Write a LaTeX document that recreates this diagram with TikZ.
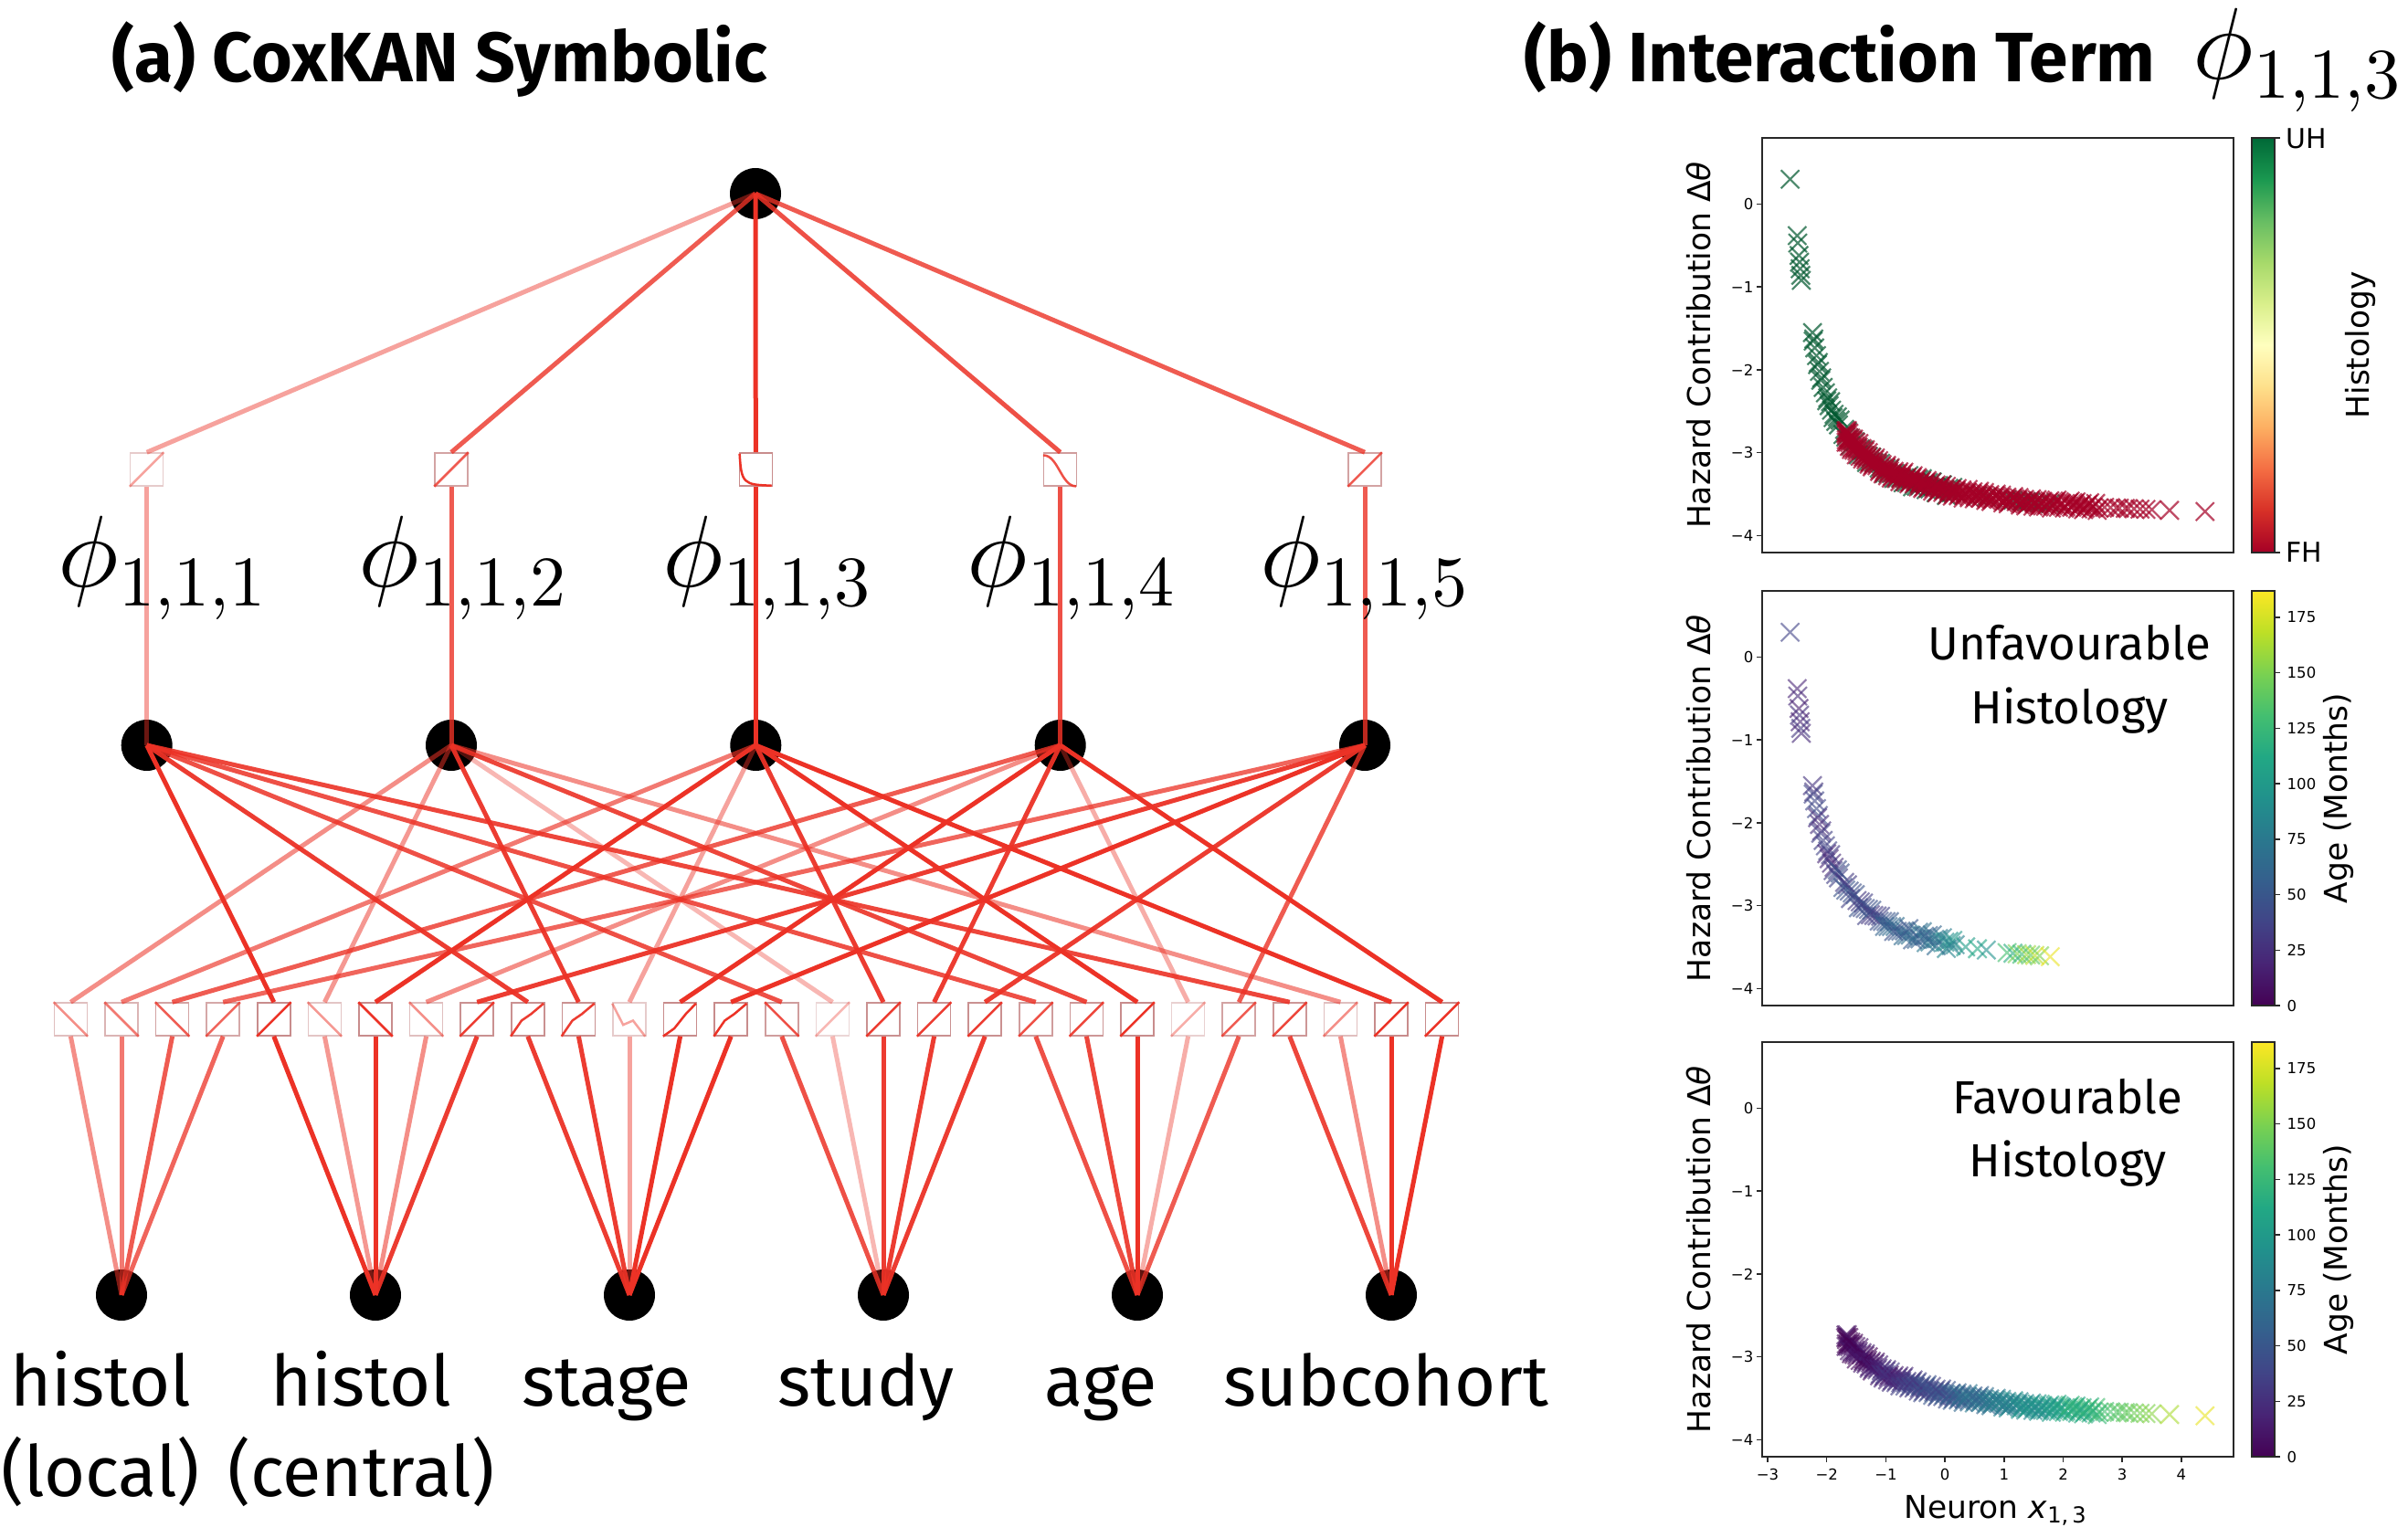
\documentclass[tikz,border=0pt]{standalone}
\usepackage[no-math]{fontspec}
\setmainfont{Fira Sans}
\newfontfamily\plotfont{DejaVu Sans}
\DeclareFontShape{OML}{cmm}{m}{it}{<->cmmi10}{}
\DeclareFontShape{OT1}{cmr}{m}{n}{<->cmr10}{}
\usetikzlibrary{positioning}

% colours
\definecolor{kanred}{RGB}{236,50,38}
\definecolor{boxedge}{RGB}{200,140,140}
\definecolor{axgray}{RGB}{40,40,40}
\definecolor{vir0}{RGB}{68,1,84}
\definecolor{vir1}{RGB}{72,36,117}
\definecolor{vir2}{RGB}{65,68,135}
\definecolor{vir3}{RGB}{53,95,141}
\definecolor{vir4}{RGB}{42,120,142}
\definecolor{vir5}{RGB}{33,145,140}
\definecolor{vir6}{RGB}{34,168,132}
\definecolor{vir7}{RGB}{68,191,112}
\definecolor{vir8}{RGB}{122,209,81}
\definecolor{vir9}{RGB}{189,223,38}
\definecolor{vir10}{RGB}{253,231,37}
\definecolor{rg0}{RGB}{165,0,38}
\definecolor{rg1}{RGB}{215,48,39}
\definecolor{rg2}{RGB}{244,109,67}
\definecolor{rg3}{RGB}{253,174,97}
\definecolor{rg4}{RGB}{254,224,139}
\definecolor{rg5}{RGB}{255,255,191}
\definecolor{rg6}{RGB}{217,239,139}
\definecolor{rg7}{RGB}{166,217,106}
\definecolor{rg8}{RGB}{102,189,99}
\definecolor{rg9}{RGB}{26,152,80}
\definecolor{rg10}{RGB}{0,104,55}
\colorlet{uhgreen}{rg10!85!black}
\colorlet{fhred}{rg0}

% small function plots inside the activation boxes
\newcommand\crvinc[1]{\draw[fnline] (#1.south west) -- (#1.north east);}
\newcommand\crvdec[1]{\draw[fnline] (#1.north west) -- (#1.south east);}
\newcommand\crvbend[1]{\draw[fnline, shift={(#1.south west)}, x=0.36cm, y=0.36cm] (0,0) -- (0.33,0.48) -- (0.62,0.68) -- (1,1);}
\newcommand\crvwig[1]{\draw[fnline, shift={(#1.south west)}, x=0.36cm, y=0.36cm] (0,1) -- (0.33,0.35) -- (0.63,0.48) -- (1,0);}
\newcommand\crvcvx[1]{\draw[fnline, shift={(#1.south west)}, x=0.36cm, y=0.36cm] (0,0) -- (0.34,0.24) -- (0.69,0.68) -- (1,1);}
\newcommand\crvexp[1]{\draw[fnline, shift={(#1.south west)}, x=0.36cm, y=0.36cm] (0.03,1) .. controls (0.08,0.1) and (0.15,0.05) .. (1,0.03);}
\newcommand\crvsig[1]{\draw[fnline, shift={(#1.south west)}, x=0.36cm, y=0.36cm] (0,0.95) .. controls (0.45,0.97) and (0.55,0) .. (1,0.01);}

% scatter helpers
\newcommand\xmk[3]{\draw[xmark,#1] (#2,#3) ++(-0.1cm,-0.1cm) -- ++(0.2cm,0.2cm) ++(-0.2cm,0cm) -- ++(0.2cm,-0.2cm);}
\newcommand\virmix[1]{%
  \pgfmathsetmacro\vpos{10*max(0,min(0.999,#1))}%
  \pgfmathtruncatemacro\vlo{\vpos}%
  \pgfmathtruncatemacro\vhi{\vlo+1}%
  \pgfmathtruncatemacro\vpc{100*(\vpos-\vlo)}%
  \colorlet{mkc}{vir\vhi!\vpc!vir\vlo}}
% unfavourable histology patients
\newcommand\uhmarks[2]{%
  \foreach \xx/\yy/\tv in {-2.62/0.30/0.2, -2.50/-0.38/0.1, -2.49/-0.47/0.12, -2.47/-0.62/0.08,
      -2.46/-0.70/0.14, -2.45/-0.78/0.1, -2.44/-0.86/0.16, -2.43/-0.92/0.12}
    {#1\xmk{mkc,opacity=#2}{\xx}{\yy}}
  \foreach \i in {1,...,80} {
    \pgfmathsetmacro\ru{frac(\i*0.618034)}
    \pgfmathsetmacro\xx{-2.25+2.45*\ru^1.3}
    \pgfmathsetmacro\yy{-3.875+1.17/(\xx+2.75)+0.14*(frac(\i*0.754878)-0.5)}
    \pgfmathsetmacro\tv{0.16+0.04*(\xx+2.6)^2+0.15*(frac(\i*0.569840)-0.5)}
    #1\xmk{mkc,opacity=#2}{\xx}{\yy}
  }
  \foreach \xx/\tv in {0.35/0.55, 0.55/0.6, 0.7/0.5, 1.05/0.7, 1.15/0.62, 1.22/0.8,
      1.3/0.68, 1.38/0.85, 1.45/0.75, 1.52/0.9, 1.6/0.8, 1.78/0.97} {
    \pgfmathsetmacro\yy{-3.875+1.17/(\xx+2.75)}
    #1\xmk{mkc,opacity=#2}{\xx}{\yy}
  }}
% favourable histology patients
\newcommand\fhmarks[2]{%
  \foreach \i in {1,...,220} {
    \pgfmathsetmacro\ru{frac(\i*0.618034+0.31)}
    \pgfmathsetmacro\xx{-1.68+4.3*\ru^1.4}
    \pgfmathsetmacro\yy{-3.875+1.17/(\xx+2.75)+(0.08+0.12/(\xx+2.75))*(frac(\i*0.754878)-0.5)}
    \pgfmathsetmacro\tv{(\xx+1.7)/6.3+0.12*(frac(\i*0.569840)-0.5)}
    #1\xmk{mkc,opacity=#2}{\xx}{\yy}
  }
  \foreach \xx in {2.7, 2.8, 2.9, 2.95, 3.05, 3.1, 3.2, 3.3, 3.4, 3.5, 3.8, 4.4} {
    \pgfmathsetmacro\yy{-3.875+1.17/(\xx+2.75)}
    \pgfmathsetmacro\tv{(\xx+1.7)/6.3}
    #1\xmk{mkc,opacity=#2}{\xx}{\yy}
  }}

\tikzset{
  neuron/.style={circle, fill=black, minimum size=0.56cm, inner sep=0},
  fbox/.style={draw=boxedge, line width=0.015cm, minimum size=0.36cm, inner sep=0},
  kline/.style={kanred, line width=0.05cm},
  fnline/.style={kanred, line width=0.025cm},
  xmark/.style={line width=0.022cm, opacity=0.6},
  axframe/.style={axgray, line width=0.02cm},
  tick/.style={axgray, line width=0.015cm},
  ticklab/.style={font=\plotfont\fontsize{4.7}{5.6}\selectfont, inner sep=0},
  axlab/.style={font=\plotfont\fontsize{9.8}{11.7}\selectfont, inner sep=0},
  inlab/.style={font=\fontsize{22}{28.2}\selectfont, inner sep=0, anchor=base},
  philab/.style={font=\fontsize{31.7}{38}\selectfont, inner sep=0, anchor=base},
  titlelab/.style={font=\bfseries\fontsize{21.8}{26}\selectfont, inner sep=0, anchor=base west},
  notelab/.style={font=\fontsize{14.5}{19.9}\selectfont, inner sep=0, anchor=base}
}

\begin{document}
\begin{tikzpicture}
  \fill[white] (0,0) rectangle (26.36,-16.84);
  \path[use as bounding box] (0,0) rectangle (26.36,-16.84);

  % Titles
  \node[titlelab] (ta) at (1.22,-0.90) {(a) CoxKAN Symbolic};
  \node[titlelab] (tb) at (16.68,-0.90) {(b) Interaction Term};
  \node[philab, anchor=base west] (tbphi) at (24.00,-0.87) {$\phi_{1,1,3}$};

  % Neurons
  \node[neuron] (out) at (8.27,-2.12) {};
  \foreach \i in {0,...,5}
    \node[neuron] (in\i) at ({-0.06+(2*\i+1)*1.39},-14.18) {};

  % Second layer: hidden neurons -> output
  \foreach \j/\x/\a/\s in {0/1.607/0.45/inc, 1/4.94/0.8/inc, 2/8.273/1/exp, 3/11.607/0.85/sig, 4/14.94/0.8/inc} {
    \node[neuron] (m\j) at (\x,-8.16) {};
    \node[fbox, draw opacity=\a] (t\j) at (\x,-5.14) {};
    \begin{scope}[opacity=\a]
      \draw[kline] (m\j.center) -- (t\j.south);
      \draw[kline] (t\j.north) -- (out.center);
      \csname crv\s\endcsname{t\j}
    \end{scope}
  }

  % First layer: inputs -> hidden neurons
  \foreach \k/\a/\s in {1/0.55/dec, 2/0.65/dec, 3/0.8/dec, 4/0.75/inc, 5/1/inc, 6/0.5/dec,
      7/1/dec, 8/0.55/dec, 9/0.95/inc, 10/0.95/bend, 11/0.95/bend, 12/0.45/wig, 13/1/cvx,
      14/1/bend, 15/0.85/dec, 16/0.35/inc, 17/0.95/inc, 18/0.95/inc, 19/0.95/inc, 20/0.85/inc,
      21/0.9/inc, 22/1/inc, 23/0.4/inc, 24/0.8/inc, 25/0.9/inc, 26/0.55/inc, 27/1/inc, 28/1/inc} {
    \pgfmathtruncatemacro\i{\k/5}
    \pgfmathtruncatemacro\j{mod(\k,5)}
    \node[fbox, draw opacity=\a] (b\k) at ({-0.06+(2*\k+1)*0.278},-11.16) {};
    \begin{scope}[opacity=\a]
      \draw[kline] (in\i.center) -- (b\k.south);
      \draw[kline] (b\k.north) -- (m\j.center);
      \csname crv\s\endcsname{b\k}
    \end{scope}
  }

  % Activation labels
  \foreach \j/\x/\n in {0/1.78/1, 1/5.07/2, 2/8.40/3, 3/11.73/4, 4/14.94/5}
    \node[philab] (phi\j) at (\x,-6.43) {$\phi_{1,1,\n}$};

  % Input labels
  \node[inlab] (lab0) at (1.10,-15.39) {\begin{tabular}[t]{@{}c@{}}histol\\(local)\end{tabular}};
  \node[inlab] (lab1) at (3.95,-15.39) {\begin{tabular}[t]{@{}c@{}}histol\\(central)\end{tabular}};
  \node[inlab] (lab2) at (6.64,-15.39) {stage};
  \node[inlab] (lab3) at (9.48,-15.39) {study};
  \node[inlab] (lab4) at (12.05,-15.39) {age};
  \node[inlab] (lab5) at (15.17,-15.39) {subcohort};

  % Colour bars
  \foreach \s in {0,...,9} {
    \pgfmathtruncatemacro\sn{\s+1}
    \shade[bottom color=rg\s, top color=rg\sn] (24.65,{-6.05+\s*0.454}) rectangle (24.90,{-6.05+(\s+1)*0.454+0.005});
    \shade[bottom color=vir\s, top color=vir\sn] (24.65,{-11.01+\s*0.454}) rectangle (24.90,{-11.01+(\s+1)*0.454+0.005});
    \shade[bottom color=vir\s, top color=vir\sn] (24.65,{-15.95+\s*0.454}) rectangle (24.90,{-15.95+(\s+1)*0.454+0.005});
  }

  % Axes frames, y ticks and y labels
  \foreach \p/\yt in {1/-1.51, 2/-6.47, 3/-11.41} {
    \draw[axframe] (19.29,\yt) rectangle (24.45,{\yt-4.54});
    \draw[axframe] (24.65,\yt) rectangle (24.90,{\yt-4.54});
    \foreach \v in {0,...,4} {
      \draw[tick] (19.29,{\yt-0.725-0.907*\v}) -- ++(-0.06,0);
      \node[ticklab, anchor=east] (yt\p\v) at (19.20,{\yt-0.725-0.907*\v}) {\ifnum\v=0 0\else −\v\fi};
    }
    \node[axlab, rotate=90] (yl\p) at (18.59,{\yt-2.27}) {Hazard Contribution Δ\textit{θ}};
  }

  % Colour bar ticks and labels
  \draw[tick] (24.90,-1.51) -- ++(0.06,0);
  \draw[tick] (24.90,-6.05) -- ++(0.06,0);
  \node[axlab, anchor=west, font=\plotfont\fontsize{8.5}{10}\selectfont] (uh) at (25.02,-1.52) {UH};
  \node[axlab, anchor=west, font=\plotfont\fontsize{8.5}{10}\selectfont] (fh) at (25.02,-6.05) {FH};
  \node[axlab, rotate=90] (hist) at (25.84,-3.78) {Histology};
  \foreach \p/\yb in {2/-11.01, 3/-15.95} {
    \foreach \v in {0,25,...,175} {
      \draw[tick] (24.90,{\yb+\v/186.9*4.54}) -- ++(0.06,0);
      \node[ticklab, anchor=west] (ct\p\v) at (25.03,{\yb+\v/186.9*4.54}) {\v};
    }
    \node[axlab, rotate=90] (age\p) at (25.60,{\yb+2.27}) {Age (Months)};
  }

  % x ticks of the lowest plot
  \foreach \v [count=\c] in {-3,...,4} {
    \draw[tick] ({19.35+(\v+3)*0.647},-15.95) -- ++(0,-0.06);
    \node[ticklab, anchor=north] (xt\c) at ({19.35+(\v+3)*0.647},-16.08) {\ifnum\v<0 −\the\numexpr-\v\relax\else\v\fi};
  }
  \node[axlab, anchor=base] (xl) at (21.85,-16.62) {Neuron \textit{x}\textsubscript{1,\,3}};

  % Scatter: all patients coloured by histology
  \begin{scope}[shift={(21.291,-2.235)}, x=0.647cm, y=0.907cm]
    \uhmarks{\colorlet{mkc}{uhgreen}}{0.7}
    \fhmarks{\colorlet{mkc}{fhred}}{0.7}
  \end{scope}

  % Scatter: unfavourable histology coloured by age
  \begin{scope}[shift={(21.291,-7.195)}, x=0.647cm, y=0.907cm]
    \uhmarks{\virmix{\tv}}{0.6}
  \end{scope}
  \node[notelab] (unf) at (22.655,-7.23) {\begin{tabular}[t]{@{}c@{}}Unfavourable\\Histology\end{tabular}};

  % Scatter: favourable histology coloured by age
  \begin{scope}[shift={(21.291,-12.135)}, x=0.647cm, y=0.907cm]
    \fhmarks{\virmix{\tv}}{0.6}
  \end{scope}
  \node[notelab] (fav) at (22.635,-12.19) {\begin{tabular}[t]{@{}c@{}}Favourable\\Histology\end{tabular}};
\end{tikzpicture}
\end{document}
